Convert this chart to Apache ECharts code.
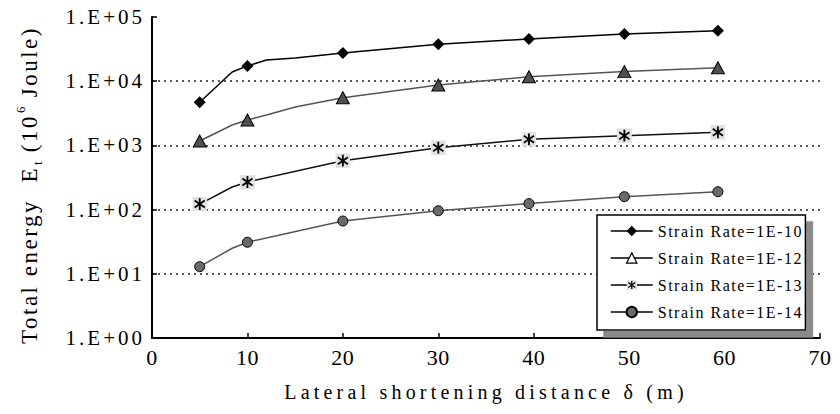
<!DOCTYPE html>
<html>
<head>
<meta charset="utf-8">
<script src="https://cdn.jsdelivr.net/npm/echarts@6/dist/echarts.min.js"></script>
<style>
  html, body { margin: 0; padding: 0; background: #fff; }
  #chart { width: 840px; height: 414px; }
  text[style*="21px"] { letter-spacing: 3px; }
  text[style*="22px"] { letter-spacing: 0.5px; }
  text[style*="20px"] { letter-spacing: 4.2px; }
  text[style*="16px"] { letter-spacing: 1.5px; }
  text[style*="23px"] { letter-spacing: 2.5px; }
</style>
</head>
<body>
<div id="chart"></div>
<script>
// ---- data ----
const seriesNames = ['Strain Rate=1E-10', 'Strain Rate=1E-12', 'Strain Rate=1E-13', 'Strain Rate=1E-14'];
const markerX = [5, 10, 20, 30, 39.5, 49.5, 59.3];

const x1 = [5, 8.4, 10, 12, 15, 20, 30, 39.5, 49.5, 59.3];
const y1 = [4700, 13900, 17300, 21400, 23000, 27500, 37600, 45400, 54300, 61200];

const x2 = [5, 8.4, 10, 12, 15, 20, 30, 39.5, 49.5, 59.3];
const y2 = [1170, 2080, 2490, 2980, 3960, 5530, 8730, 11700, 14100, 16200];

const x3 = [5, 8.4, 10, 20, 30, 39.5, 49.5, 59.3];
const y3 = [122, 225, 269, 578, 920, 1245, 1416, 1600];

const x4 = [5, 8.4, 10, 20, 30, 39.5, 49.5, 59.3];
const y4 = [12.9, 25, 31, 66.4, 96, 124, 159, 190];

const yTickLabels = ['1.E+00', '1.E+01', '1.E+02', '1.E+03', '1.E+04', '1.E+05'];
const xTitle = 'Lateral shortening distance δ (m)';
const yTitleParts = ['Total energy\u00a0\u00a0E', 't', '\u00a0(10', '6', '\u00a0Joule)'];

// ---- build ----
function pts(xs, ys) {
  return xs.map((x, i) => markerX.indexOf(x) >= 0
    ? { value: [x, ys[i]] }
    : { value: [x, ys[i]], symbol: 'none' });
}

const starSvg = "<svg xmlns='http://www.w3.org/2000/svg' width='28' height='28'>" +
  "<rect width='28' height='28' fill='#e2e2e2'/>" +
  "<path d='M14 3V25M4.5 7.5L23.5 20.5M23.5 7.5L4.5 20.5' stroke='#000' stroke-width='3.4' fill='none'/></svg>";
const starSymbol = 'image://data:image/svg+xml;charset=utf-8,' + encodeURIComponent(starSvg);

const FONT = 'Liberation Serif';
const LS = 2.5;

const chart = echarts.init(document.getElementById('chart'), null, { renderer: 'svg' });

chart.setOption({
  animation: false,
  backgroundColor: '#fff',
  textStyle: { fontFamily: FONT, color: '#000' },
  grid: { left: 152, right: 20, top: 17, bottom: 76, containLabel: false },
  xAxis: {
    type: 'value', min: 0, max: 70, interval: 10,
    name: xTitle, nameLocation: 'middle', nameGap: 44,
    nameTextStyle: { fontFamily: FONT, fontSize: 20, color: '#000' },
    axisLine: { show: true, lineStyle: { color: '#000', width: 2 } },
    axisTick: { show: true, inside: true, length: 5, lineStyle: { color: '#000', width: 1.5 } },
    axisLabel: { fontFamily: FONT, fontSize: 22, color: '#000', margin: 8 },
    splitLine: { show: false }
  },
  yAxis: {
    type: 'log', logBase: 10, min: 1, max: 100000,
    axisLine: { show: true, lineStyle: { color: '#000', width: 2 } },
    axisTick: { show: true, inside: true, length: 5, lineStyle: { color: '#000', width: 1.5 } },
    axisLabel: {
      fontFamily: FONT, fontSize: 21, color: '#000', margin: 7,
      formatter: v => yTickLabels[Math.round(Math.log10(v))]
    },
    minorTick: { show: false },
    splitLine: { show: true, showMinLine: false, showMaxLine: false,
      lineStyle: { color: '#222', width: 1.5, type: [2, 4] } }
  },
  legend: {
    orient: 'vertical', left: 597, top: 215,
    padding: [8, 28, 10, 13],
    itemWidth: 42, itemHeight: 13, itemGap: 11,
    backgroundColor: '#fff', borderColor: '#000', borderWidth: 1.5, borderRadius: 0,
    shadowColor: '#8a8a8a', shadowOffsetX: 7, shadowOffsetY: 7, shadowBlur: 0,
    textStyle: { fontFamily: FONT, fontSize: 16, color: '#000' },
    lineStyle: { color: '#000', width: 1.5 },
    data: [
      { name: seriesNames[0] },
      { name: seriesNames[1], itemStyle: { color: '#fff', borderColor: '#000', borderWidth: 1.2 } },
      { name: seriesNames[2] },
      { name: seriesNames[3] }
    ]
  },
  graphic: [{
    type: 'text', x: 29, y: 185, rotation: Math.PI / 2,
    style: {
      text: '{a1|' + yTitleParts[0] + '}{sub|' + yTitleParts[1] + '}{a2|' + yTitleParts[2] +
            '}{sup|' + yTitleParts[3] + '}{a3|' + yTitleParts[4] + '}',
      align: 'center', verticalAlign: 'middle',
      textAlign: 'center', textVerticalAlign: 'middle',
      fill: '#000',
      rich: {
        a1: { fontFamily: FONT, fontSize: 23, lineHeight: 30, align: 'left', padding: [0, 15 * LS, 0, 0] },
        a2: { fontFamily: FONT, fontSize: 23, lineHeight: 30, align: 'left', padding: [0, 4 * LS, 0, 0] },
        a3: { fontFamily: FONT, fontSize: 23, lineHeight: 30, align: 'left', padding: [0, 7 * LS, 0, 0] },
        sub: { fontFamily: FONT, fontSize: 13, lineHeight: 13, align: 'left', verticalAlign: 'bottom', padding: [0, 1, 0, 1] },
        sup: { fontFamily: FONT, fontSize: 13, lineHeight: 13, align: 'left', verticalAlign: 'top', padding: [0, 1, 0, 1] }
      }
    }
  }],
  series: [
    {
      name: seriesNames[0], type: 'line', data: pts(x1, y1),
      symbol: 'diamond', symbolSize: 12, showAllSymbol: true,
      lineStyle: { color: '#000', width: 1.5 },
      itemStyle: { color: '#000' }, z: 5
    },
    {
      name: seriesNames[1], type: 'line', data: pts(x2, y2),
      symbol: 'triangle', symbolSize: [13, 12], showAllSymbol: true,
      lineStyle: { color: '#555', width: 1.5 },
      itemStyle: { color: '#505050', borderColor: '#000', borderWidth: 1 }, z: 4
    },
    {
      name: seriesNames[2], type: 'line', data: pts(x3, y3),
      symbol: starSymbol, symbolSize: 15, showAllSymbol: true,
      lineStyle: { color: '#111', width: 1.5 },
      itemStyle: { color: '#000' }, z: 3
    },
    {
      name: seriesNames[3], type: 'line', data: pts(x4, y4),
      symbol: 'circle', symbolSize: 10, showAllSymbol: true,
      lineStyle: { color: '#555', width: 1.5 },
      itemStyle: { color: '#6a6a6a', borderColor: '#000', borderWidth: 1 }, z: 2
    }
  ]
});
</script>
</body>
</html>
